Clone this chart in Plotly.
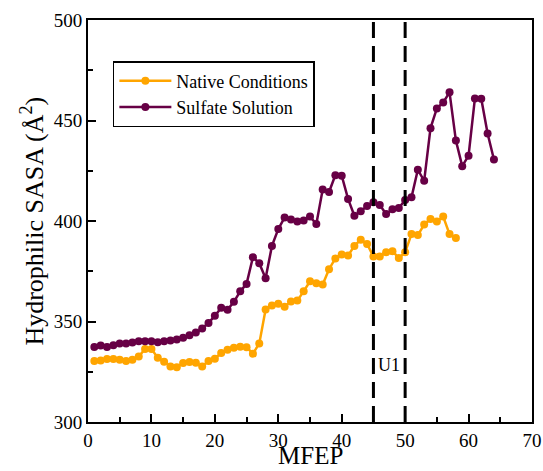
import plotly.graph_objects as go

native_x = list(range(1, 59))
native_y = [330.3, 330.6, 331.3, 331.3, 331.0, 330.3, 331.0, 332.6, 336.3, 336.3,
            332.0, 330.0, 327.6, 327.3, 329.3, 329.8, 329.5, 327.6, 330.3, 331.5,
            334.3, 336.0, 337.0, 337.5, 337.2, 334.0, 339.0, 356.0, 358.0, 358.8,
            357.4, 360.0, 360.4, 365.0, 370.0, 369.0, 368.4, 376.0, 381.4, 383.3,
            382.8, 387.6, 390.7, 388.6, 382.3, 382.3, 384.4, 385.0, 381.6, 384.4,
            393.5, 393.0, 398.2, 401.0, 399.7, 402.2, 393.5, 391.6]

sulfate_x = list(range(1, 65))
sulfate_y = [337.3, 338.0, 337.3, 338.2, 339.0, 339.0, 339.6, 340.2, 340.2, 340.2,
             339.7, 340.2, 340.5, 341.0, 341.9, 343.2, 344.5, 346.5, 349.3, 352.8,
             356.8, 355.8, 359.8, 365.0, 368.7, 382.0, 379.0, 371.5, 387.6, 396.0,
             401.8, 400.8, 399.8, 400.2, 402.2, 398.5, 415.7, 414.4, 422.8, 422.5,
             411.0, 402.6, 404.8, 407.5, 409.3, 408.0, 403.5, 405.8, 406.5, 410.4,
             411.8, 425.5, 420.0, 446.2, 456.0, 459.0, 464.0, 440.0, 427.3, 432.5,
             461.0, 460.8, 443.5, 430.6]

u1_bounds = [45, 50]
u1_label = "U1"
u1_label_pos = (47.5, 328.5)

x_ticks = [0, 10, 20, 30, 40, 50, 60, 70]
y_ticks = [300, 350, 400, 450, 500]

x_title = "MFEP"
y_title = "Hydrophilic SASA (Å<sup>2</sup>)"

FONT = "Liberation Serif, Times New Roman, serif"

fig = go.Figure()
fig.add_trace(go.Scatter(x=native_x, y=native_y, mode="lines+markers",
                         name="Native Conditions",
                         line=dict(color="#FFA500", width=2.5),
                         marker=dict(color="#FFA500", size=8)))
fig.add_trace(go.Scatter(x=sulfate_x, y=sulfate_y, mode="lines+markers",
                         name="Sulfate Solution",
                         line=dict(color="#670045", width=2.5),
                         marker=dict(color="#670045", size=8)))

for b in u1_bounds:
    fig.add_shape(type="line", x0=b, x1=b, y0=0, y1=1, xref="x", yref="paper",
                  line=dict(color="black", width=3, dash="16px,8px"))

fig.add_annotation(x=u1_label_pos[0], y=u1_label_pos[1], text=u1_label,
                   showarrow=False, font=dict(family=FONT, size=18, color="black"))

# axis titles
fig.add_annotation(x=0.5, y=-0.122, xref="paper", yref="paper", text=x_title,
                   showarrow=False, xanchor="center", yanchor="bottom",
                   font=dict(family=FONT, size=25, color="black"))
fig.add_annotation(x=-0.127, y=0.5, xref="paper", yref="paper", text=y_title,
                   showarrow=False, xanchor="center", yanchor="middle", textangle=-90,
                   font=dict(family=FONT, size=26, color="black"))

fig.update_layout(
    width=543, height=471,
    margin=dict(l=88, r=11, t=20, b=49),
    paper_bgcolor="white", plot_bgcolor="white",
    font=dict(family=FONT, color="black"),
    showlegend=True,
    legend=dict(x=0.056, y=0.898, xanchor="left", yanchor="top",
                bgcolor="white", bordercolor="black", borderwidth=1.5,
                font=dict(family=FONT, size=18, color="black"),
                tracegroupgap=0, itemwidth=52),
)
fig.update_xaxes(range=[0, 70], tickvals=x_ticks, ticks="inside", ticklen=8,
                 tickwidth=1.5, tickcolor="black", automargin=False,
                 minor=dict(dtick=5, ticks="inside", ticklen=5, tickwidth=1.5, tickcolor="black"),
                 showgrid=False, zeroline=False, showline=True, linecolor="black",
                 linewidth=2, mirror=True,
                 tickfont=dict(family=FONT, size=19, color="black"))
fig.update_yaxes(range=[300, 500], tickvals=y_ticks, ticks="inside", ticklen=8,
                 tickwidth=1.5, tickcolor="black", automargin=False,
                 minor=dict(dtick=25, ticks="inside", ticklen=5, tickwidth=1.5, tickcolor="black"),
                 showgrid=False, zeroline=False, showline=True, linecolor="black",
                 linewidth=2, mirror=True,
                 tickfont=dict(family=FONT, size=19, color="black"))

fig.write_html("out.html")
